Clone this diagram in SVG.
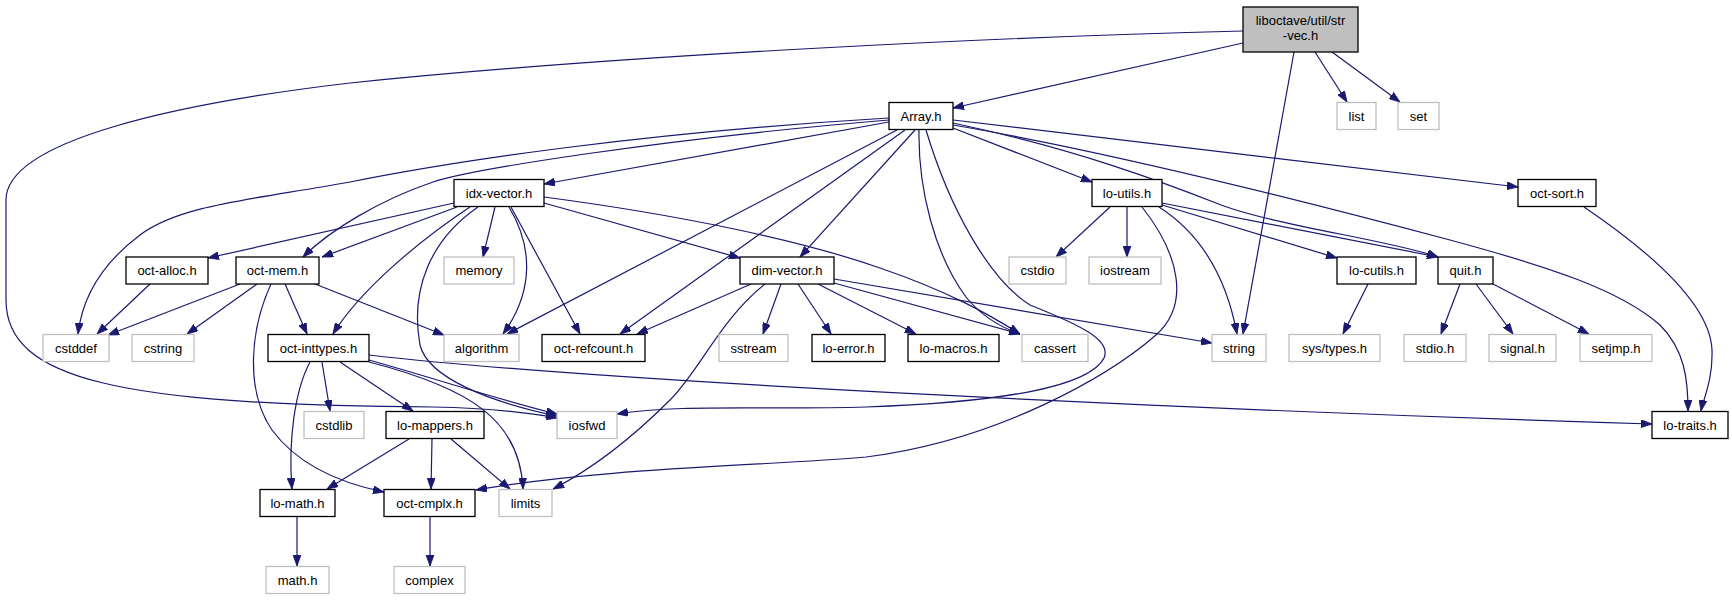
<svg xmlns="http://www.w3.org/2000/svg" width="1732" height="600" viewBox="0 0 1732 600">
<style>
.n rect{fill:#ffffff;stroke:#000000;stroke-width:1.3}
.x rect{fill:#ffffff;stroke:#bfbfbf;stroke-width:1.3}
.r rect{fill:#bfbfbf;stroke:#000000;stroke-width:1.3}
text{font-family:"Liberation Sans",Arial,sans-serif;font-size:13px;fill:#000000;text-anchor:middle}
#edges path{fill:none;stroke:#191970;stroke-width:1.2;marker-end:url(#arr)}
</style>
<defs>
<marker id="arr" viewBox="0 0 11 8" refX="11" refY="4" markerWidth="11" markerHeight="8" markerUnits="userSpaceOnUse" orient="auto">
<path d="M0,0 L11,4 L0,8 z" fill="#191970" stroke="#191970" stroke-width="0.8"/>
</marker>
</defs>
<rect width="1732" height="600" fill="#ffffff"/>
<g id="edges">
<path d="M1243,31 C1000,37 620,55 350,83 C180,103 6,140 6,200 L6,300 C6,380 120,405 433,407 C490,408 525,412 557,418"/>
<path d="M1243,43 L953,108"/>
<path d="M1294,52 L1243,334"/>
<path d="M1315,52 L1347,102"/>
<path d="M1332,52 L1400,102"/>
<path d="M889,122 L544,184"/>
<path d="M889,118 C650,132 460,160 350,182 C250,200 180,205 140,235 C100,265 82,300 78,334"/>
<path d="M889,120 C650,140 470,170 433,182 C380,200 330,230 303,257"/>
<path d="M897,130 L507,334"/>
<path d="M905,130 L620,334"/>
<path d="M915,130 L800,257"/>
<path d="M919,130 C918,190 935,255 966,297 C982,317 1000,327 1020,334"/>
<path d="M926,130 C950,210 990,280 1030,305 C1080,325 1112,340 1104,358 C1090,385 1010,402 866,407 C760,410 680,404 617,414"/>
<path d="M953,128 L1092,182"/>
<path d="M953,120 L1518,187"/>
<path d="M953,123 C1080,150 1170,185 1216,203 C1270,225 1390,240 1438,257"/>
<path d="M953,125 C1100,150 1300,200 1450,240 C1550,267 1620,290 1660,325 C1685,350 1688,380 1688,411"/>
<path d="M1110,207 L1056,257"/>
<path d="M1127,207 L1127,257"/>
<path d="M1159,207 C1195,230 1225,270 1237,334"/>
<path d="M1162,205 L1337,258"/>
<path d="M1162,203 L1438,257"/>
<path d="M1142,207 C1180,255 1190,305 1156,335 C1110,375 1000,440 866,457 C760,466 600,468 476,490"/>
<path d="M1584,207 C1640,245 1710,300 1712,350 C1713,380 1703,400 1701,411"/>
<path d="M1368,284 L1343,334"/>
<path d="M1460,284 L1441,334"/>
<path d="M1476,284 L1513,334"/>
<path d="M1493,284 L1589,334"/>
<path d="M454,203 L208,258"/>
<path d="M457,207 L322,257"/>
<path d="M470,207 C420,240 360,290 333,334"/>
<path d="M495,207 L483,257"/>
<path d="M478,207 C430,240 410,290 420,345 C428,378 490,402 557,416"/>
<path d="M509,207 C532,245 535,290 503,334"/>
<path d="M511,207 L580,334"/>
<path d="M544,203 L740,258"/>
<path d="M544,197 C680,215 800,240 880,268 C950,292 990,315 1020,334"/>
<path d="M150,284 L97,334"/>
<path d="M240,284 L108,335"/>
<path d="M257,284 L187,334"/>
<path d="M271,284 C250,330 245,390 272,430 C300,468 345,484 384,492"/>
<path d="M285,284 L307,334"/>
<path d="M315,284 L444,335"/>
<path d="M751,284 L637,334"/>
<path d="M765,284 C720,320 700,370 670,400 C630,440 590,470 553,489"/>
<path d="M781,284 L763,334"/>
<path d="M798,284 L831,334"/>
<path d="M818,284 L916,334"/>
<path d="M834,283 L1020,334"/>
<path d="M834,279 L1212,343"/>
<path d="M322,362 L330,411"/>
<path d="M340,362 L413,411"/>
<path d="M310,362 C295,390 288,440 292,489"/>
<path d="M369,360 C440,380 500,400 557,414"/>
<path d="M369,362 C470,388 520,420 523,489"/>
<path d="M369,355 C600,382 1200,410 1652,424"/>
<path d="M409,439 L327,489"/>
<path d="M432,439 L431,489"/>
<path d="M451,439 L510,489"/>
<path d="M297,517 L297,566"/>
<path d="M430,517 L430,566"/>
</g>
<g id="str-vec" class="r"><rect x="1243" y="7" width="115" height="45"/><text x="1300.5" y="25">liboctave/util/str</text><text x="1300.5" y="40">-vec.h</text></g>
<g id="array" class="n"><rect x="889" y="102.5" width="64" height="27"/><text x="921" y="121">Array.h</text></g>
<g id="list" class="x"><rect x="1337" y="102.5" width="39" height="27"/><text x="1356.5" y="121">list</text></g>
<g id="set" class="x"><rect x="1398" y="102.5" width="41" height="27"/><text x="1418.5" y="121">set</text></g>
<g id="idx-vector" class="n"><rect x="454" y="179.5" width="90" height="27"/><text x="499" y="198">idx-vector.h</text></g>
<g id="lo-utils" class="n"><rect x="1092" y="179.5" width="70" height="27"/><text x="1127" y="198">lo-utils.h</text></g>
<g id="oct-sort" class="n"><rect x="1518" y="179.5" width="78" height="27"/><text x="1557" y="198">oct-sort.h</text></g>
<g id="oct-alloc" class="n"><rect x="126" y="257" width="82" height="27"/><text x="167" y="275">oct-alloc.h</text></g>
<g id="oct-mem" class="n"><rect x="236" y="257" width="83" height="27"/><text x="277.5" y="275">oct-mem.h</text></g>
<g id="memory" class="x"><rect x="444" y="257" width="70" height="27"/><text x="479" y="275">memory</text></g>
<g id="dim-vector" class="n"><rect x="740" y="257" width="94" height="27"/><text x="787" y="275">dim-vector.h</text></g>
<g id="cstdio" class="x"><rect x="1009" y="257" width="57" height="27"/><text x="1037.5" y="275">cstdio</text></g>
<g id="iostream" class="x"><rect x="1089" y="257" width="72" height="27"/><text x="1125" y="275">iostream</text></g>
<g id="lo-cutils" class="n"><rect x="1337" y="257" width="79" height="27"/><text x="1376.5" y="275">lo-cutils.h</text></g>
<g id="quit" class="n"><rect x="1438" y="257" width="55" height="27"/><text x="1465.5" y="275">quit.h</text></g>
<g id="cstddef" class="x"><rect x="43" y="334.5" width="66" height="27"/><text x="76" y="352.5">cstddef</text></g>
<g id="cstring" class="x"><rect x="132" y="334.5" width="62" height="27"/><text x="163" y="352.5">cstring</text></g>
<g id="oct-inttypes" class="n"><rect x="268" y="334.5" width="101" height="27"/><text x="318.5" y="352.5">oct-inttypes.h</text></g>
<g id="algorithm" class="x"><rect x="444" y="334.5" width="75" height="27"/><text x="481.5" y="352.5">algorithm</text></g>
<g id="oct-refcount" class="n"><rect x="542" y="334.5" width="103" height="27"/><text x="593.5" y="352.5">oct-refcount.h</text></g>
<g id="sstream" class="x"><rect x="719" y="334.5" width="69" height="27"/><text x="753.5" y="352.5">sstream</text></g>
<g id="lo-error" class="n"><rect x="812" y="334.5" width="73" height="27"/><text x="848.5" y="352.5">lo-error.h</text></g>
<g id="lo-macros" class="n"><rect x="908" y="334.5" width="91" height="27"/><text x="953.5" y="352.5">lo-macros.h</text></g>
<g id="cassert" class="x"><rect x="1022" y="334.5" width="66" height="27"/><text x="1055" y="352.5">cassert</text></g>
<g id="string" class="x"><rect x="1212" y="334.5" width="54" height="27"/><text x="1239" y="352.5">string</text></g>
<g id="sys-types" class="x"><rect x="1289" y="334.5" width="91" height="27"/><text x="1334.5" y="352.5">sys/types.h</text></g>
<g id="stdio" class="x"><rect x="1404" y="334.5" width="62" height="27"/><text x="1435" y="352.5">stdio.h</text></g>
<g id="signal" class="x"><rect x="1489" y="334.5" width="67" height="27"/><text x="1522.5" y="352.5">signal.h</text></g>
<g id="setjmp" class="x"><rect x="1580" y="334.5" width="72" height="27"/><text x="1616" y="352.5">setjmp.h</text></g>
<g id="cstdlib" class="x"><rect x="304" y="411.5" width="60" height="27"/><text x="334" y="429.5">cstdlib</text></g>
<g id="lo-mappers" class="n"><rect x="386" y="411.5" width="98" height="27"/><text x="435" y="429.5">lo-mappers.h</text></g>
<g id="iosfwd" class="x"><rect x="557" y="411.5" width="60" height="27"/><text x="587" y="429.5">iosfwd</text></g>
<g id="lo-traits" class="n"><rect x="1652" y="411.5" width="76" height="27"/><text x="1690" y="429.5">lo-traits.h</text></g>
<g id="lo-math" class="n"><rect x="260" y="489.5" width="75" height="27"/><text x="297.5" y="507.5">lo-math.h</text></g>
<g id="oct-cmplx" class="n"><rect x="384" y="489.5" width="91" height="27"/><text x="429.5" y="507.5">oct-cmplx.h</text></g>
<g id="limits" class="x"><rect x="499" y="489.5" width="53" height="27"/><text x="525.5" y="507.5">limits</text></g>
<g id="math" class="x"><rect x="266" y="566.5" width="63" height="27"/><text x="297.5" y="584.5">math.h</text></g>
<g id="complex" class="x"><rect x="394" y="566.5" width="71" height="27"/><text x="429.5" y="584.5">complex</text></g>
</svg>
